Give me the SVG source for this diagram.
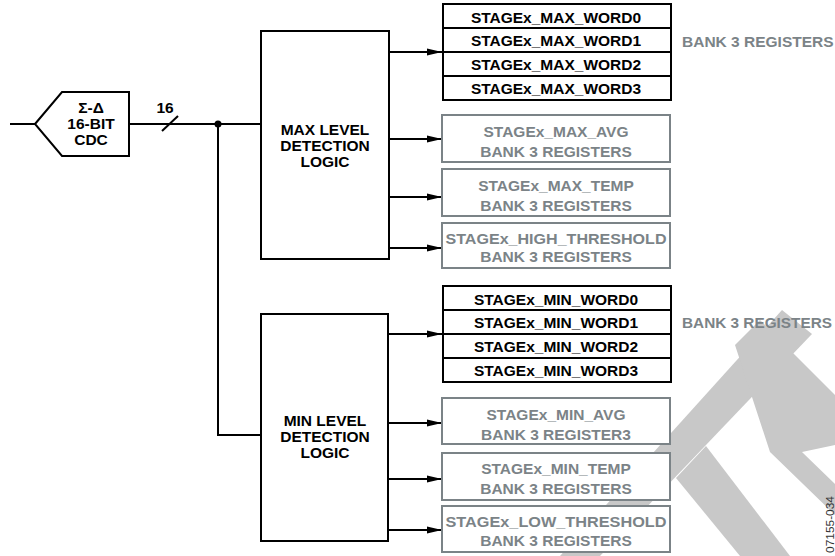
<svg xmlns="http://www.w3.org/2000/svg" width="835" height="556" viewBox="0 0 835 556">
<defs>
<style>
.t{font-family:"Liberation Sans",Arial,sans-serif;font-weight:bold;font-size:15.5px;fill:#000;text-anchor:middle}
.g{fill:#7b8387}
.s{text-anchor:start}
.bk{fill:#fff;stroke:#000;stroke-width:2}
.gb{fill:#fff;stroke:#7b8387;stroke-width:2}
.ln{fill:none;stroke:#000;stroke-width:2}
.wm{fill:#c8c8c8}
</style>
<marker id="ah" markerWidth="16" markerHeight="8" refX="15" refY="4" orient="auto" markerUnits="userSpaceOnUse">
<path d="M0,0.5 L15,4 L0,7.5 Z" fill="#000"/>
</marker>
</defs>
<rect width="835" height="556" fill="#fff"/>

<g id="watermark">
<polygon class="wm" points="560,556 600,556 812,334 782,310"/>
<polygon class="wm" points="676,478 706,446 790,556 740,556"/>
<polygon class="wm" points="735,345 760,320 835,395 835,445 802,452 835,484 835,515 770,452"/>
</g>

<g id="connectors">
<line class="ln" x1="10" y1="124" x2="35" y2="124"/>
<line class="ln" x1="129" y1="124" x2="261" y2="124"/>
<line class="ln" x1="162" y1="131" x2="178" y2="116"/>
<circle cx="218" cy="124" r="3.5" fill="#000"/>
<polyline class="ln" points="218,124 218,435 261,435"/>
<line class="ln" x1="389" y1="52" x2="442" y2="52" marker-end="url(#ah)"/>
<line class="ln" x1="389" y1="139" x2="442" y2="139" marker-end="url(#ah)"/>
<line class="ln" x1="389" y1="197" x2="442" y2="197" marker-end="url(#ah)"/>
<line class="ln" x1="389" y1="248" x2="442" y2="248" marker-end="url(#ah)"/>
<line class="ln" x1="388" y1="334" x2="442" y2="334" marker-end="url(#ah)"/>
<line class="ln" x1="388" y1="423" x2="442" y2="423" marker-end="url(#ah)"/>
<line class="ln" x1="388" y1="479" x2="442" y2="479" marker-end="url(#ah)"/>
<line class="ln" x1="388" y1="530" x2="442" y2="530" marker-end="url(#ah)"/>
<text class="t" x="165" y="112.5">16</text>
</g>

<g id="cdc">
<polygon class="bk" points="35,124 62,92 129,92 129,156 62,156"/>
<text class="t" x="91" y="113">Σ-Δ</text>
<text class="t" x="91" y="129">16-BIT</text>
<text class="t" x="91" y="145">CDC</text>
</g>

<g id="max-logic">
<rect class="bk" x="261" y="31" width="128" height="228"/>
<text class="t" x="325" y="135">MAX LEVEL</text>
<text class="t" x="325" y="151">DETECTION</text>
<text class="t" x="325" y="167">LOGIC</text>
</g>

<g id="min-logic">
<rect class="bk" x="261" y="314" width="127" height="227"/>
<text class="t" x="325" y="426">MIN LEVEL</text>
<text class="t" x="325" y="442">DETECTION</text>
<text class="t" x="325" y="458">LOGIC</text>
</g>

<g id="max-words">
<rect class="bk" x="443" y="4" width="228" height="96"/>
<line class="ln" x1="443" y1="28" x2="671" y2="28"/>
<line class="ln" x1="443" y1="52" x2="671" y2="52"/>
<line class="ln" x1="443" y1="76" x2="671" y2="76"/>
<text class="t" x="556" y="22.5">STAGEx_MAX_WORD0</text>
<text class="t" x="556" y="46">STAGEx_MAX_WORD1</text>
<text class="t" x="556" y="70">STAGEx_MAX_WORD2</text>
<text class="t" x="556" y="94">STAGEx_MAX_WORD3</text>
</g>
<g id="max-bank-label">
<text class="t g s" x="682" y="47">BANK 3 REGISTERS</text>
</g>

<g id="max-avg">
<rect class="gb" x="442" y="115" width="228" height="47"/>
<text class="t g" x="556" y="136.5">STAGEx_MAX_AVG</text>
<text class="t g" x="556" y="156.5">BANK 3 REGISTERS</text>
</g>
<g id="max-temp">
<rect class="gb" x="442" y="169" width="228" height="47"/>
<text class="t g" x="556" y="190.5">STAGEx_MAX_TEMP</text>
<text class="t g" x="556" y="210.5">BANK 3 REGISTERS</text>
</g>
<g id="high-threshold">
<rect class="gb" x="442" y="223" width="228" height="45"/>
<text class="t g" x="556" y="243.5" textLength="221" lengthAdjust="spacingAndGlyphs">STAGEx_HIGH_THRESHOLD</text>
<text class="t g" x="556" y="262">BANK 3 REGISTERS</text>
</g>

<g id="min-words">
<rect class="bk" x="443" y="286" width="228" height="96"/>
<line class="ln" x1="443" y1="310" x2="671" y2="310"/>
<line class="ln" x1="443" y1="334" x2="671" y2="334"/>
<line class="ln" x1="443" y1="358" x2="671" y2="358"/>
<text class="t" x="556" y="304.5">STAGEx_MIN_WORD0</text>
<text class="t" x="556" y="328">STAGEx_MIN_WORD1</text>
<text class="t" x="556" y="352">STAGEx_MIN_WORD2</text>
<text class="t" x="556" y="376">STAGEx_MIN_WORD3</text>
</g>
<g id="min-bank-label">
<text class="t g s" x="682" y="327.5" textLength="150" lengthAdjust="spacingAndGlyphs">BANK 3 REGISTERS</text>
</g>

<g id="min-avg">
<rect class="gb" x="442" y="398" width="228" height="46"/>
<text class="t g" x="556" y="419.5">STAGEx_MIN_AVG</text>
<text class="t g" x="556" y="439.5">BANK 3 REGISTER3</text>
</g>
<g id="min-temp">
<rect class="gb" x="442" y="453" width="228" height="47"/>
<text class="t g" x="556" y="474">STAGEx_MIN_TEMP</text>
<text class="t g" x="556" y="494">BANK 3 REGISTERS</text>
</g>
<g id="low-threshold">
<rect class="gb" x="442" y="506" width="228" height="46"/>
<text class="t g" x="556" y="527" textLength="221" lengthAdjust="spacingAndGlyphs">STAGEx_LOW_THRESHOLD</text>
<text class="t g" x="556" y="546">BANK 3 REGISTERS</text>
</g>

<text x="834" y="553" transform="rotate(-90 834 553)" font-family="Liberation Sans,Arial,sans-serif" font-size="10" fill="#333" textLength="57" lengthAdjust="spacingAndGlyphs">07155-034</text>
</svg>
